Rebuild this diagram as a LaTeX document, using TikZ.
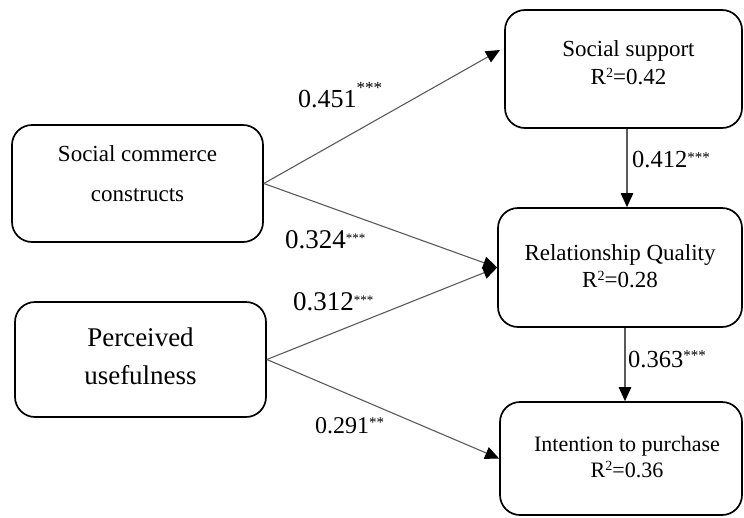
\documentclass[tikz,border=0pt]{standalone}
\usepackage{fontspec}
\setmainfont{Liberation Serif}
\usetikzlibrary{arrows.meta,positioning,calc}
\definecolor{boxline}{RGB}{0,0,0}
\definecolor{pathgray}{RGB}{90,90,90}
\newcommand{\stars}[3]{\raisebox{#1}{\fontsize{#2}{#2}\selectfont #3}}
\newcommand{\rtwo}{\raisebox{7pt}{\fontsize{14}{14}\selectfont 2}}
\tikzset{
    % Constructs
    construct/.style={
        rectangle,
        draw=boxline,
        line width=1.7pt,
        rounded corners=20pt,
        inner sep=0pt
    },
    boxtext/.style={
        align=center,
        inner sep=0pt,
        font=\fontsize{23}{28}\selectfont
    },
    % Paths
    pathline/.style={
        -{Triangle[length=14pt,width=12.5pt,color=black]},
        line width=1.1pt,
        draw=pathgray
    },
    % Coefficients
    coef/.style={
        anchor=base west,
        inner sep=0pt,
        font=\fontsize{26}{26}\selectfont
    }
}

\begin{document}
\begin{tikzpicture}[x=1pt, y=-1pt]
    \useasboundingbox (0,0) rectangle (744,517);

    % Exogenous constructs
    \node[construct, minimum width=251pt, minimum height=117pt] (scc) at (137.5,183.5) {};
    \node[boxtext, font=\fontsize{23}{40}\selectfont] (scctext) at (137.5,174) {Social commerce\\constructs};

    \node[construct, minimum width=251pt, minimum height=115pt] (pu) at (140.5,359.5) {};
    \node[boxtext, font=\fontsize{27}{38}\selectfont] (putext) at (140.5,356) {Perceived\\usefulness};

    % Endogenous constructs
    \node[construct, minimum width=237pt, minimum height=118pt] (ss) at (623.5,69) {};
    \node[boxtext] (sstext) at (628.5,63) {Social support\\R\rtwo=0.42};

    \node[construct, minimum width=244pt, minimum height=119pt] (rq) at (620,267.5) {};
    \node[boxtext, font=\fontsize{23}{27}\selectfont] (rqtext) at (620,265.7) {Relationship Quality\\R\rtwo=0.28};

    \node[construct, minimum width=242pt, minimum height=113pt] (ip) at (621,458.5) {};
    \node[boxtext, font=\fontsize{22}{26}\selectfont] (iptext) at (627,457) {Intention to purchase\\R\rtwo=0.36};

    % Arrow ends
    \coordinate (ssin) at (500,50);
    \coordinate (ssout) at ($(ss.south)+(3.5,0)$);
    \coordinate (rqout) at ($(rq.south)+(5,0)$);

    % Paths
    \draw[pathline] (scc.east) -- (ssin);
    \draw[pathline] (scc.east) -- (rq.west);
    \draw[pathline] (pu.east) -- (rq.west);
    \draw[pathline] (pu.east) -- (ip.west);
    \draw[pathline] (ssout) -- (ssout |- rq.north);
    \draw[pathline] (rqout) -- (rqout |- ip.north);

    % Coefficients
    \node[coef] (b1) at (298,107) {0.451\stars{14pt}{17}{***}};
    \node[coef, font=\fontsize{27}{27}\selectfont] (b2) at (285,248) {0.324\stars{6pt}{13}{***}};
    \node[coef, font=\fontsize{27}{27}\selectfont] (b3) at (293,310) {0.312\stars{6pt}{13}{***}};
    \node[coef, font=\fontsize{24}{24}\selectfont] (b4) at (315,433) {0.291\stars{6pt}{15}{**}};
    \node[coef, font=\fontsize{24.5}{24.5}\selectfont] (b5) at (632,167) {0.412\stars{5pt}{15}{***}};
    \node[coef, font=\fontsize{24.5}{24.5}\selectfont] (b6) at (628,367) {0.363\stars{7pt}{15}{***}};

\end{tikzpicture}
\end{document}
